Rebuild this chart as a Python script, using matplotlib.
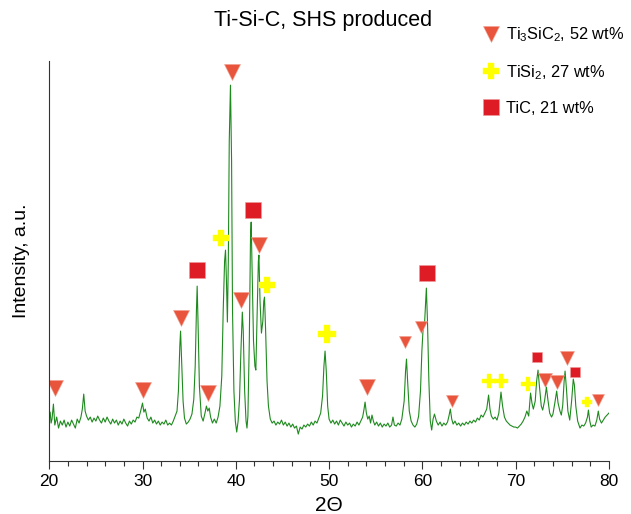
import numpy as np
import matplotlib
matplotlib.use("Agg")
import matplotlib.pyplot as plt
from matplotlib.lines import Line2D
from matplotlib.ticker import MultipleLocator

plt.rcParams['font.family'] = ['Liberation Sans', 'DejaVu Sans']
plt.rcParams['mathtext.fontset'] = 'custom'
plt.rcParams['mathtext.rm'] = 'Liberation Sans'
plt.rcParams['mathtext.it'] = 'Liberation Sans:italic'

# XRD pattern (2theta, intensity in arbitrary units)
two_theta = [
    20.0, 20.1, 20.2, 20.3, 20.45, 20.6, 20.8, 21.0, 21.2, 21.4, 21.6, 21.8, 22.0, 22.2, 22.4, 22.6,
    22.8, 23.0, 23.2, 23.4, 23.55, 23.7, 23.85, 24.0, 24.2, 24.4, 24.6, 24.8, 25.0, 25.2, 25.4, 25.6,
    25.8, 26.0, 26.2, 26.4, 26.6, 26.8, 27.0, 27.2, 27.4, 27.6, 27.8, 28.0, 28.2, 28.4, 28.6, 28.8,
    29.0, 29.2, 29.4, 29.6, 29.8, 30.0, 30.15, 30.3, 30.5, 30.7, 30.9, 31.1, 31.3, 31.5, 31.7, 31.9,
    32.1, 32.3, 32.5, 32.7, 32.9, 33.1, 33.3, 33.5, 33.7, 33.85, 34.0, 34.08, 34.2, 34.35, 34.5, 34.7,
    34.9, 35.1, 35.3, 35.5, 35.65, 35.78, 35.86, 35.95, 36.1, 36.3, 36.5, 36.7, 36.85, 37.0, 37.15, 37.3,
    37.5, 37.7, 37.9, 38.1, 38.3, 38.5, 38.65, 38.8, 38.9, 39.0, 39.1, 39.2, 39.3, 39.43, 39.55, 39.65,
    39.8, 39.95, 40.1, 40.25, 40.4, 40.55, 40.7, 40.8, 40.95, 41.1, 41.2, 41.3, 41.45, 41.58, 41.65, 41.75,
    41.9, 42.05, 42.15, 42.3, 42.42, 42.48, 42.6, 42.75, 42.9, 43.0, 43.08, 43.2, 43.35, 43.5, 43.7, 43.9,
    44.1, 44.3, 44.5, 44.7, 44.9, 45.1, 45.3, 45.5, 45.7, 45.9, 46.1, 46.3, 46.5, 46.7, 46.9, 47.1,
    47.3, 47.5, 47.7, 47.9, 48.1, 48.3, 48.5, 48.7, 48.9, 49.1, 49.3, 49.45, 49.57, 49.7, 49.85, 50.0,
    50.2, 50.4, 50.6, 50.8, 51.0, 51.2, 51.4, 51.6, 51.8, 52.0, 52.2, 52.4, 52.6, 52.8, 53.0, 53.2,
    53.4, 53.6, 53.75, 53.86, 54.0, 54.15, 54.3, 54.45, 54.6, 54.75, 54.9, 55.1, 55.3, 55.5, 55.7, 55.9,
    56.1, 56.3, 56.5, 56.7, 56.85, 57.0, 57.2, 57.4, 57.6, 57.8, 58.05, 58.2, 58.3, 58.42, 58.6, 58.8,
    59.0, 59.2, 59.4, 59.6, 59.8, 59.95, 60.1, 60.25, 60.38, 60.43, 60.55, 60.7, 60.85, 61.0, 61.15, 61.3,
    61.5, 61.7, 61.9, 62.1, 62.3, 62.5, 62.7, 62.85, 63.0, 63.15, 63.3, 63.5, 63.7, 63.9, 64.1, 64.3,
    64.5, 64.7, 64.9, 65.1, 65.3, 65.5, 65.7, 65.9, 66.1, 66.3, 66.5, 66.7, 66.9, 67.1, 67.25, 67.4,
    67.6, 67.8, 68.0, 68.2, 68.43, 68.6, 68.8, 69.0, 69.2, 69.4, 69.6, 69.8, 70.0, 70.2, 70.4, 70.6,
    70.8, 71.0, 71.2, 71.4, 71.6, 71.75, 71.9, 72.1, 72.25, 72.4, 72.55, 72.75, 72.9, 73.1, 73.3, 73.45,
    73.65, 73.85, 74.0, 74.2, 74.4, 74.55, 74.75, 74.9, 75.05, 75.2, 75.3, 75.45, 75.6, 75.8, 76.0, 76.18,
    76.3, 76.45, 76.65, 76.9, 77.1, 77.3, 77.5, 77.7, 77.8, 77.95, 78.1, 78.3, 78.5, 78.7, 78.86, 79.0,
    79.2, 79.4, 79.6, 79.8, 80.0,
]
intensity = [
    44, 49, 38, 42, 57, 36, 44, 33, 40, 36, 41, 34, 39, 35, 41, 37,
    33, 42, 38, 44, 52, 67, 50, 45, 41, 44, 39, 43, 40, 45, 41, 38,
    43, 39, 44, 40, 37, 42, 38, 41, 36, 40, 37, 42, 38, 35, 40, 37,
    41, 39, 44, 43, 50, 58, 49, 52, 43, 40, 44, 38, 41, 37, 40, 36,
    39, 37, 41, 36, 38, 36, 40, 45, 50, 70, 115, 130, 100, 60, 43, 37,
    39, 42, 47, 62, 95, 150, 175, 140, 75, 45, 40, 48, 55, 50, 53, 44,
    38, 42, 38, 44, 55, 85, 150, 200, 211, 180, 139, 200, 320, 376, 300, 150,
    70, 40, 29, 40, 62, 110, 149, 130, 70, 40, 33, 45, 120, 225, 239, 190,
    120, 95, 91, 150, 200, 206, 160, 128, 140, 160, 164, 130, 80, 55, 42, 38,
    40, 36, 39, 37, 41, 36, 39, 35, 38, 34, 37, 33, 35, 27, 34, 32,
    36, 34, 37, 35, 39, 36, 40, 38, 43, 48, 65, 95, 110, 90, 55, 42,
    38, 41, 37, 40, 36, 41, 38, 35, 39, 36, 38, 34, 37, 35, 39, 36,
    40, 44, 52, 59, 48, 42, 45, 38, 46, 40, 36, 39, 35, 38, 34, 37,
    35, 38, 34, 36, 44, 36, 35, 38, 36, 42, 60, 90, 102, 80, 50, 40,
    36, 34, 37, 45, 70, 110, 136, 140, 165, 173, 140, 80, 40, 31, 42, 47,
    40, 36, 39, 35, 38, 36, 39, 45, 52, 42, 37, 40, 36, 38, 35, 38,
    36, 39, 37, 40, 38, 41, 39, 43, 41, 46, 44, 48, 52, 66, 52, 45,
    42, 44, 41, 48, 69, 55, 44, 40, 38, 36, 35, 34, 34, 33, 35, 37,
    40, 44, 50, 45, 68, 58, 52, 60, 80, 91, 75, 55, 51, 60, 74, 62,
    48, 44, 47, 58, 70, 58, 50, 46, 56, 80, 90, 72, 50, 41, 60, 82,
    76, 55, 40, 33, 36, 35, 38, 44, 51, 40, 34, 36, 35, 41, 50, 42,
    38, 41, 44, 46, 48,
]

# phase identification marks
ti3sic2_tt = [20.64, 30.1, 34.14, 37.0, 39.64, 40.6, 42.5, 54.04, 58.18, 59.86, 63.14, 73.14, 74.46, 75.46, 78.8]
ti3sic2_y = [73, 71, 143, 68, 389, 161, 216, 74, 119, 134, 60, 81, 79, 103, 61]
tisi2_tt = [38.43, 43.32, 49.75, 67.14, 68.43, 71.36, 77.68]
tisi2_y = [223, 176, 127, 80, 80, 77, 59]
tic_tt = [35.82, 41.82, 60.46, 72.25, 76.36]
tic_y = [191, 251, 188, 104, 89]

labels = ['Ti$_3$SiC$_2$, 52 wt%', 'TiSi$_2$, 27 wt%', 'TiC, 21 wt%']

# marker sizes (big ones on strong peaks, smaller ones in the crowded high-angle region)
ti3sic2_ms = [12, 12, 12, 12, 12, 12, 12, 12, 8, 8, 8, 10, 10, 10, 8]
tisi2_ms = [11, 11, 13, 10, 10, 10, 7]
tic_ms = [11, 11, 11, 7.5, 7.5]

c_tri = '#e9553c'
c_plus = '#ffff00'
c_sq = '#dd1c25'
c_line = '#1e8a1e'

fig = plt.figure(figsize=(6.31, 5.14), dpi=100)
ax = fig.add_axes([0.078, 0.103, 0.887, 0.778])

ax.plot(two_theta, intensity, color=c_line, lw=0.8)

for x, y, ms in zip(ti3sic2_tt, ti3sic2_y, ti3sic2_ms):
    ax.plot(x, y, marker='v', ms=ms, color=c_tri, mec='#f4a08f', mew=0.4, ls='none')
for x, y, ms in zip(tisi2_tt, tisi2_y, tisi2_ms):
    ax.plot(x, y, marker='P', ms=ms, color=c_plus, mec=c_plus, mew=0.3, ls='none')
for x, y, ms in zip(tic_tt, tic_y, tic_ms):
    ax.plot(x, y, marker='s', ms=ms, color=c_sq, mec='#ef9a9a', mew=0.4, ls='none')

ax.set_xlim(20, 80)
ax.set_ylim(0, 400)
ax.xaxis.set_major_locator(MultipleLocator(10))
ax.xaxis.set_minor_locator(MultipleLocator(2))
ax.tick_params(axis='x', which='major', direction='out', length=6, width=0.8,
               color='#333333', labelsize=12.5, pad=3)
ax.tick_params(axis='x', which='minor', direction='out', length=3.5, width=0.8, color='#333333')
ax.set_yticks([])
for s in ['top', 'right']:
    ax.spines[s].set_visible(False)
for s in ['left', 'bottom']:
    ax.spines[s].set_color('#333333')
    ax.spines[s].set_linewidth(0.8)

ax.set_xlabel('2Θ', fontsize=15, labelpad=5)
ax.set_ylabel('Intensity, a.u.', fontsize=14, labelpad=14)
fig.text(0.512, 0.96, 'Ti-Si-C, SHS produced', ha='center', va='center', fontsize=15.5)

handles = [
    Line2D([], [], marker='v', ms=12, color=c_tri, mec='#f4a08f', mew=0.4, ls='none'),
    Line2D([], [], marker='P', ms=12, color=c_plus, mec=c_plus, mew=0.3, ls='none'),
    Line2D([], [], marker='s', ms=11, color=c_sq, mec='#ef9a9a', mew=0.4, ls='none'),
]
fig.legend(handles, labels, loc='upper left', bbox_to_anchor=(0.755, 0.963),
           frameon=False, fontsize=11.8, handlelength=1.0, handletextpad=0.4,
           labelspacing=1.15, borderaxespad=0)

fig.savefig('out.png', dpi=100)
